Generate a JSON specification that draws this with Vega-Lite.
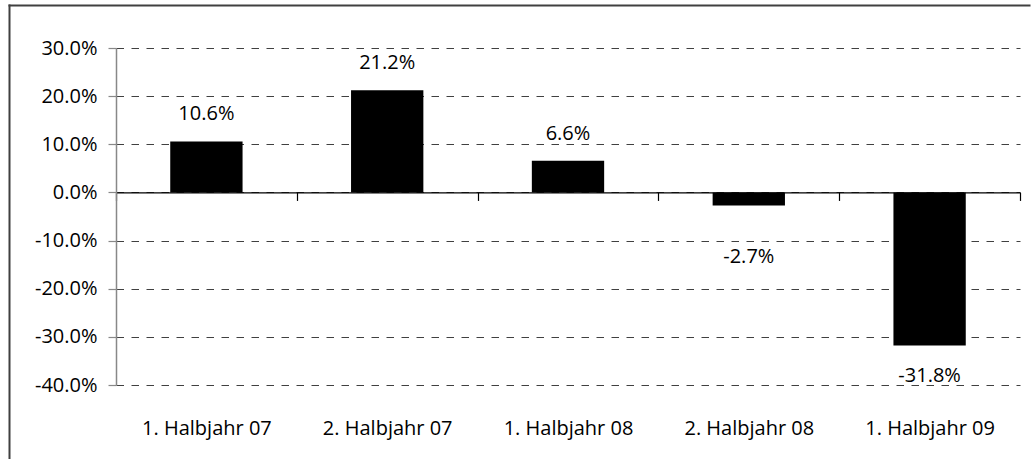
{
  "$schema": "https://vega.github.io/schema/vega-lite/v6.json",
  "usermeta": {"embedOptions": {"actions": false}},
  "autosize": "none",
  "padding": {"left": 116, "top": 48, "right": 12, "bottom": 74},
  "width": 904,
  "height": 337,
  "background": "white",
  "config": {
    "view": {"stroke": null},
    "font": "Open Sans",
    "locale": {"number": {"decimal": ".", "thousands": ",", "grouping": [3], "currency": ["$", ""], "minus": "-"}},
    "text": {"font": "Open Sans", "fontSize": 20, "color": "#000000"},
    "axis": {"labelFont": "Open Sans", "labelFontSize": 20, "labelColor": "#000000", "title": null}
  },
  "data": {
    "values": [
      {"period": "1. Halbjahr 07", "change": 0.106},
      {"period": "2. Halbjahr 07", "change": 0.212},
      {"period": "1. Halbjahr 08", "change": 0.066},
      {"period": "2. Halbjahr 08", "change": -0.027},
      {"period": "1. Halbjahr 09", "change": -0.318}
    ]
  },
  "layer": [
    {
      "mark": {"type": "bar", "color": "#000000"},
      "encoding": {
        "x": {
          "field": "period", "type": "nominal", "sort": null,
          "scale": {"domain": ["1. Halbjahr 07", "2. Halbjahr 07", "1. Halbjahr 08", "2. Halbjahr 08", "1. Halbjahr 09"], "paddingInner": 0.6, "paddingOuter": 0.3},
          "axis": {
            "orient": "bottom", "offset": -192.57, "labels": false, "grid": false,
            "domain": true, "domainColor": "#000000", "domainWidth": 1.2,
            "ticks": true, "tickColor": "#000000", "tickWidth": 1.2, "tickSize": 8,
            "bandPosition": 2.5, "tickOffset": -54.2, "tickExtra": true, "title": null
          }
        },
        "y": {
          "field": "change", "type": "quantitative",
          "scale": {"domain": [-0.4, 0.3], "nice": false, "zero": false},
          "axis": {
            "values": [-0.4, -0.3, -0.2, -0.1, 0, 0.1, 0.2, 0.3],
            "format": ".1%", "grid": true, "gridDash": [7.5, 7.5], "gridColor": "#404040", "gridWidth": 1.2,
            "domainColor": "#888888", "domainWidth": 1.5, "tickColor": "#888888", "tickWidth": 1.2, "tickSize": 8,
            "labelPadding": 11, "title": null
          }
        }
      }
    },
    {
      "transform": [{"filter": "datum.change >= 0"}],
      "mark": {"type": "text", "baseline": "alphabetic", "align": "center", "dy": -21},
      "encoding": {
        "x": {
          "field": "period", "type": "nominal", "sort": null,
          "scale": {"domain": ["1. Halbjahr 07", "2. Halbjahr 07", "1. Halbjahr 08", "2. Halbjahr 08", "1. Halbjahr 09"], "paddingInner": 0.6, "paddingOuter": 0.3},
          "axis": {"orient": "bottom", "domain": false, "ticks": false, "grid": false, "labelAngle": 0, "labelPadding": 33, "title": null}
        },
        "y": {
          "field": "change", "type": "quantitative",
          "scale": {"domain": [-0.4, 0.3], "nice": false, "zero": false},
          "axis": null
        },
        "text": {"field": "change", "type": "quantitative", "format": ".1%"}
      }
    },
    {
      "transform": [{"filter": "datum.change < -0.1"}],
      "mark": {"type": "text", "baseline": "alphabetic", "align": "center", "dy": 36},
      "encoding": {
        "x": {
          "field": "period", "type": "nominal", "sort": null,
          "scale": {"domain": ["1. Halbjahr 07", "2. Halbjahr 07", "1. Halbjahr 08", "2. Halbjahr 08", "1. Halbjahr 09"], "paddingInner": 0.6, "paddingOuter": 0.3},
          "axis": null
        },
        "y": {
          "field": "change", "type": "quantitative",
          "scale": {"domain": [-0.4, 0.3], "nice": false, "zero": false},
          "axis": null
        },
        "text": {"field": "change", "type": "quantitative", "format": ".1%"}
      }
    },
    {
      "transform": [{"filter": "datum.change < 0 && datum.change >= -0.1"}],
      "mark": {"type": "text", "baseline": "alphabetic", "align": "center", "dy": 58},
      "encoding": {
        "x": {
          "field": "period", "type": "nominal", "sort": null,
          "scale": {"domain": ["1. Halbjahr 07", "2. Halbjahr 07", "1. Halbjahr 08", "2. Halbjahr 08", "1. Halbjahr 09"], "paddingInner": 0.6, "paddingOuter": 0.3},
          "axis": null
        },
        "y": {
          "field": "change", "type": "quantitative",
          "scale": {"domain": [-0.4, 0.3], "nice": false, "zero": false},
          "axis": null
        },
        "text": {"field": "change", "type": "quantitative", "format": ".1%"}
      }
    },
    {
      "data": {"values": [{"anchor": 0}]},
      "mark": {"type": "text", "text": ""},
      "encoding": {
        "x": {
          "field": "anchor", "type": "quantitative",
          "scale": {"domain": [0, 1], "range": [-108, 914], "nice": false, "zero": false},
          "axis": {"orient": "top", "offset": 43, "labels": false, "ticks": false, "grid": false, "domain": true, "domainColor": "#404040", "domainWidth": 2, "title": null}
        },
        "y": {
          "field": "anchor", "type": "quantitative",
          "scale": {"domain": [0, 1], "range": [411, -44], "nice": false, "zero": false},
          "axis": {"orient": "left", "offset": 107, "labels": false, "ticks": false, "grid": false, "domain": true, "domainColor": "#404040", "domainWidth": 2, "title": null}
        }
      }
    }
  ],
  "resolve": {
    "scale": {"x": "independent", "y": "independent"},
    "axis": {"x": "independent", "y": "independent"}
  }
}
